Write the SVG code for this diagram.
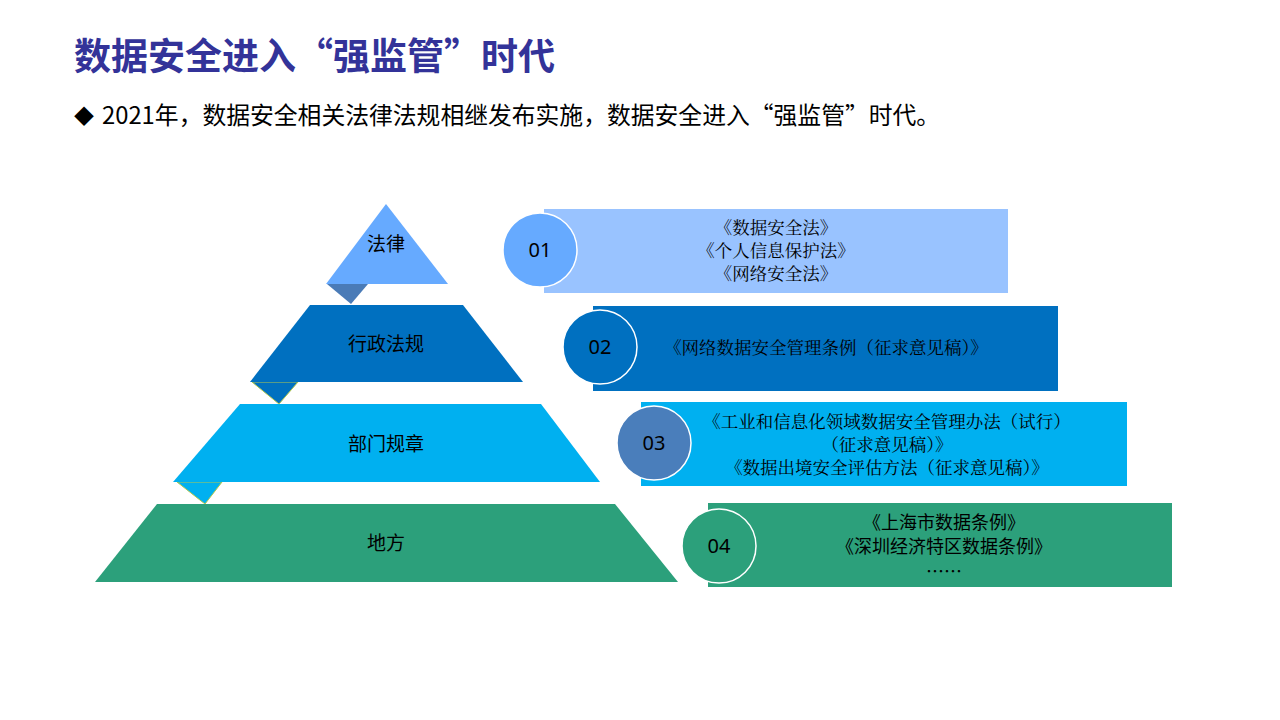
<svg xmlns="http://www.w3.org/2000/svg" width="1280" height="720" viewBox="0 0 1280 720">
<style>
.t{font-family:"Noto Sans CJK SC","Noto Sans",sans-serif;fill:#000}
.s{font-family:"Noto Serif CJK SC","Liberation Serif","Noto Sans CJK SC",serif;font-size:17.5px;fill:#000;text-anchor:middle}
.c{stroke:#fff;stroke-width:1.5}
.n{font-family:"Noto Sans","Noto Sans CJK SC",sans-serif;font-size:20px;text-anchor:middle;fill:#000}
.l{font-family:"Noto Sans CJK SC",sans-serif;font-size:19px;text-anchor:middle;fill:#000}
.m{font-family:"Noto Sans CJK SC",sans-serif;font-size:18px;text-anchor:middle;fill:#000}
</style>
<rect width="1280" height="720" fill="#fff"/>
<text x="74" y="70" font-family="Noto Sans CJK SC,sans-serif" font-size="37" font-weight="bold" fill="#333399">数据安全进入“强监管”时代</text>
<text x="74" y="124" class="t" font-size="20">◆</text>
<text x="102" y="124" class="t" font-size="23.8">2021年，数据安全相关法律法规相继发布实施，数据安全进入“强监管”时代。</text>
<g id="connectors">
<polygon points="327,284 368,284 351,304" fill="#4a7bb7"/>
<polygon points="252,382 298,382 279,404" fill="#0070c0" stroke="#b5c84a" stroke-width="1"/>
<polygon points="177,482 222,482 205,504" fill="#00b0f0" stroke="#b5c84a" stroke-width="1"/>
</g>
<g id="level1"><polygon points="386,204 448,284 326,284" fill="#66aaff"/><text x="386" y="251" class="l">法律</text></g>
<g id="level2"><polygon points="310,305 463,305 523,382 250,382" fill="#0070c0"/><text x="386" y="351" class="l">行政法规</text></g>
<g id="level3"><polygon points="240,404 541,404 600,482 173,482" fill="#00b0f0"/><text x="386" y="451" class="l">部门规章</text></g>
<g id="level4"><polygon points="157,504 615,504 678,582 95,582" fill="#2ca07b"/><text x="386" y="550" class="l">地方</text></g>
<g id="item1"><rect x="544" y="209" width="464" height="84" fill="#99c3ff"/><circle cx="540" cy="250" r="37" fill="#66aaff" class="c"/><text x="540" y="257" class="n">01</text>
<text class="s" x="776" y="234">《数据安全法》</text><text class="s" x="776" y="257">《个人信息保护法》</text><text class="s" x="776" y="280">《网络安全法》</text></g>
<g id="item2"><rect x="593" y="306" width="465" height="85" fill="#0070c0"/><circle cx="600" cy="347" r="37" fill="#0070c0" class="c"/><text x="600" y="354" class="n">02</text>
<text class="s" x="826" y="354">《网络数据安全管理条例（征求意见稿）》</text></g>
<g id="item3"><rect x="641" y="402" width="486" height="84" fill="#00b0f0"/><circle cx="654" cy="443" r="37" fill="#4a7ebb" class="c"/><text x="654" y="450" class="n">03</text>
<text class="s" x="887" y="428">《工业和信息化领域数据安全管理办法（试行）</text><text class="s" x="887" y="451">（征求意见稿）》</text><text class="s" x="887" y="474">《数据出境安全评估方法（征求意见稿）》</text></g>
<g id="item4"><rect x="708" y="503" width="464" height="84" fill="#2ca07b"/><circle cx="719" cy="546" r="37" fill="#2ca07b" class="c"/><text x="719" y="553" class="n">04</text>
<text class="m" x="944" y="529">《上海市数据条例》</text><text class="m" x="944" y="553">《深圳经济特区数据条例》</text><text class="m" x="944" y="578">……</text></g>
</svg>
